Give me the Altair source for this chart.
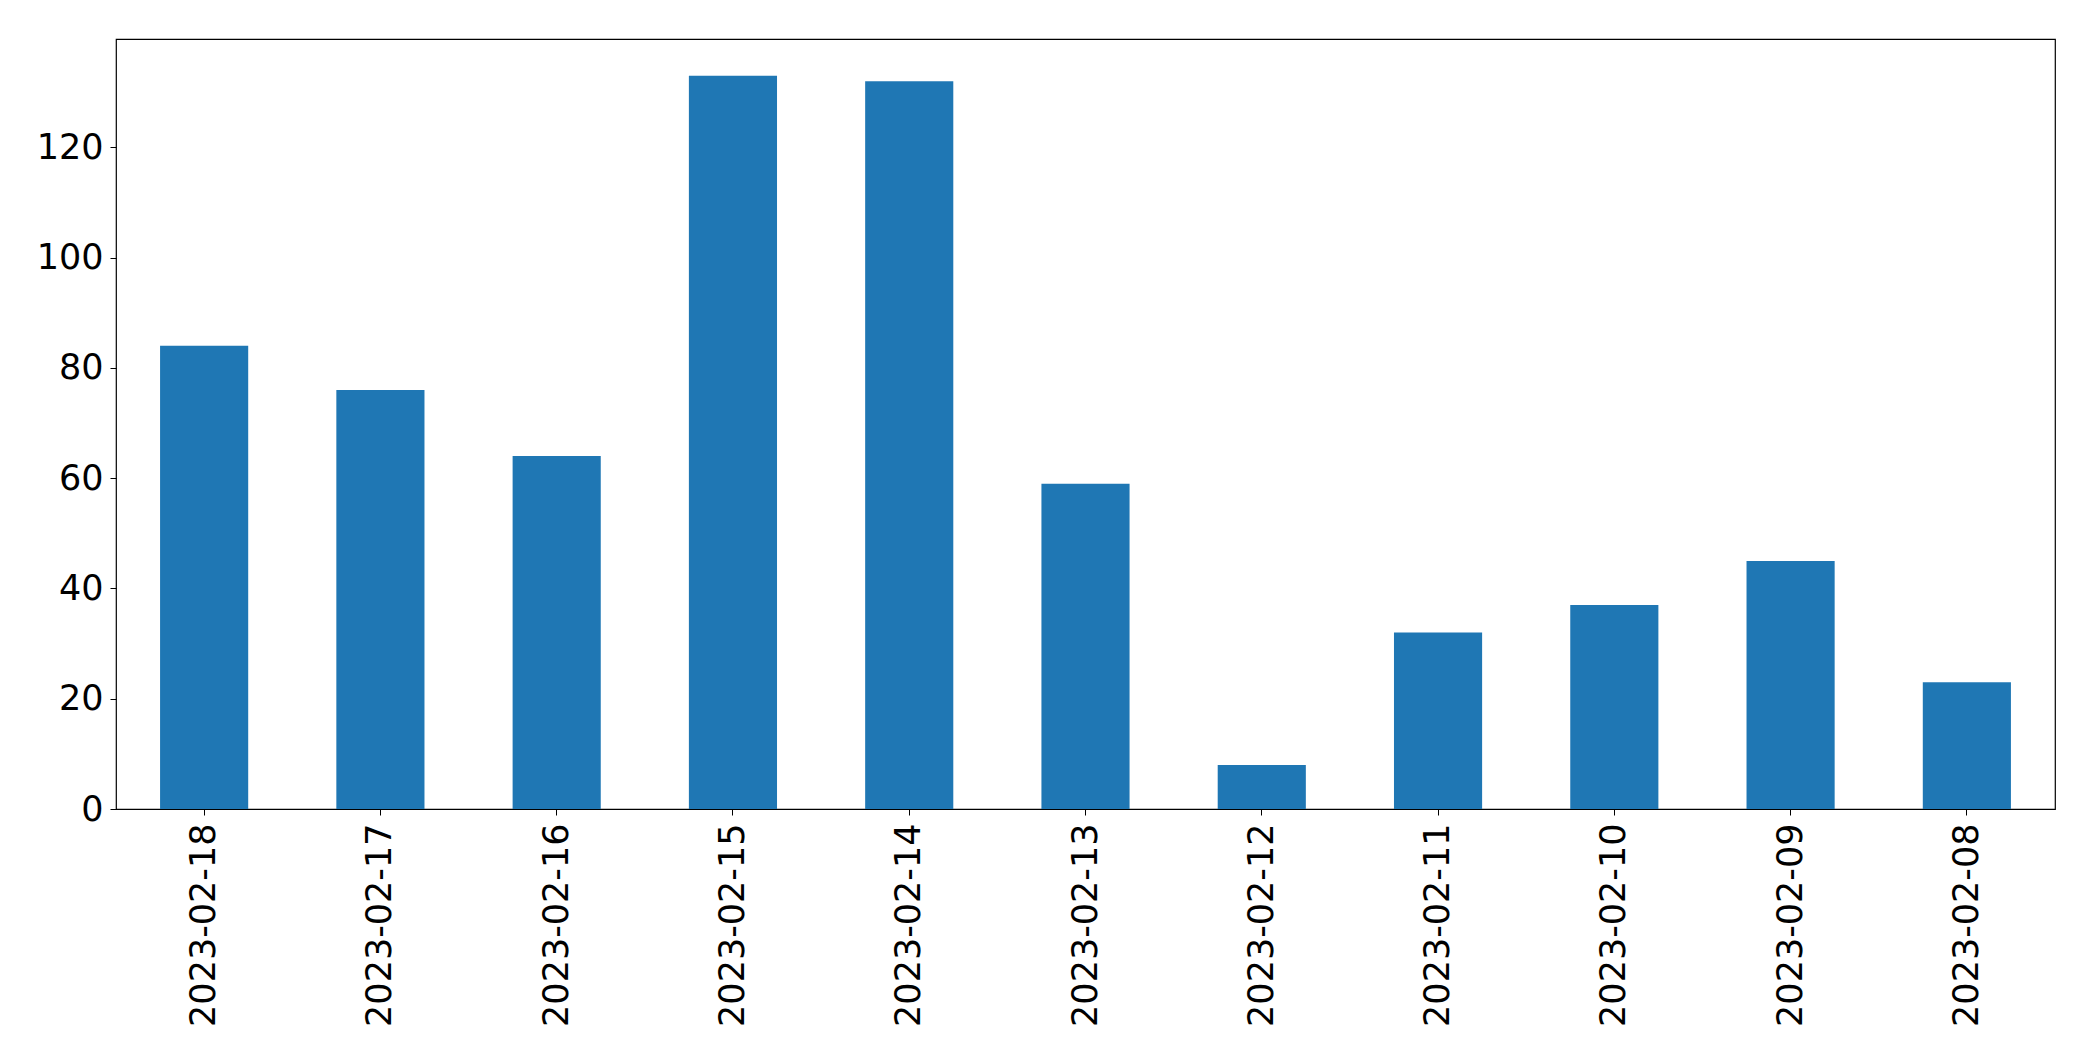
import altair as alt
import pandas as pd

dates = ["2023-02-18", "2023-02-17", "2023-02-16", "2023-02-15", "2023-02-14",
         "2023-02-13", "2023-02-12", "2023-02-11", "2023-02-10", "2023-02-09",
         "2023-02-08"]
counts = [84, 76, 64, 133, 132, 59, 8, 32, 37, 45, 23]
y_ticks = [0, 20, 40, 60, 80, 100, 120]

df = pd.DataFrame({"date": dates, "count": counts})

FONT = "DejaVu Sans"

chart = alt.Chart(df).mark_bar(color="#1f77b4").encode(
    x=alt.X("date:N", sort=None, title=None,
            scale=alt.Scale(paddingInner=0.5, paddingOuter=0.25),
            axis=alt.Axis(labelAngle=270, labelFontSize=35, labelFont=FONT,
                          labelColor="black", tickColor="black", tickSize=6,
                          tickWidth=1, labelPadding=8, labelLimit=0, domain=False)),
    y=alt.Y("count:Q", title=None,
            scale=alt.Scale(domain=[0, 139.65], nice=False, zero=True),
            axis=alt.Axis(values=y_ticks, labelFontSize=35, labelFont=FONT,
                          labelColor="black", tickColor="black", tickSize=6,
                          tickWidth=1, labelPadding=7, grid=False, domain=False)),
).properties(
    width=1939,
    height=770,
    background="white",
    autosize=alt.AutoSizeParams(type="none"),
    padding={"left": 108, "top": 31, "right": 30, "bottom": 240},
).configure_view(
    stroke="black", strokeWidth=1.2
)

chart.save("out.html", embed_options={"renderer": "svg", "actions": False})
